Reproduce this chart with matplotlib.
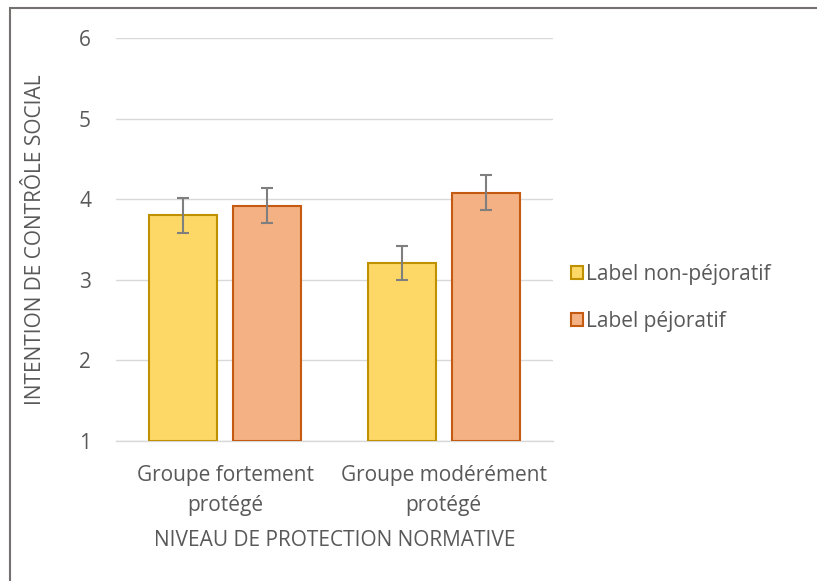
import matplotlib
matplotlib.use("Agg")
import matplotlib.pyplot as plt
import numpy as np
from matplotlib.patches import Rectangle, Patch

plt.rcParams['font.family'] = ['Open Sans', 'DejaVu Sans']

categories = ["Groupe fortement\nprotégé", "Groupe modérément\nprotégé"]
series_names = ["Label non-péjoratif", "Label péjoratif"]
non_pejoratif = [3.80, 3.21]
pejoratif = [3.92, 4.08]
err_non_pejoratif = [0.22, 0.21]
err_pejoratif = [0.22, 0.22]
yticks = [1, 2, 3, 4, 5, 6]

W, H = 817, 581
fig = plt.figure(figsize=(W/100, H/100), dpi=100)
ax = fig.add_axes([116/W, 1-441/H, (553-116)/W, (441-38)/H])

text_c = "#595959"
grid_c = "#D9D9D9"
fs = 15
x = np.arange(len(categories))
bw = 0.311
off = 0.192
ax.bar(x - off, np.array(non_pejoratif) - 1, bottom=1, width=bw,
       color="#FDD866", edgecolor="#BF9000", linewidth=1.5, zorder=3, label=series_names[0])
ax.bar(x + off, np.array(pejoratif) - 1, bottom=1, width=bw,
       color="#F4B183", edgecolor="#C55A11", linewidth=1.5, zorder=3, label=series_names[1])
ax.errorbar(x - off, non_pejoratif, yerr=err_non_pejoratif, fmt='none',
            ecolor="#7F7F7F", elinewidth=1.5, capsize=4.3, capthick=1.5, zorder=4)
ax.errorbar(x + off, pejoratif, yerr=err_pejoratif, fmt='none',
            ecolor="#7F7F7F", elinewidth=1.5, capsize=4.3, capthick=1.5, zorder=4)

ax.set_xlim(-0.5, 1.5)
ax.set_ylim(1, 6)
ax.set_yticks(yticks)
ax.set_xticks(x)
ax.set_xticklabels(categories, fontsize=fs, color=text_c, linespacing=1.6)
ax.tick_params(axis='y', length=0, labelsize=fs, labelcolor=text_c, pad=18)
ax.tick_params(axis='x', length=0, pad=17)
ax.grid(axis='y', color=grid_c, linewidth=1, zorder=0)
for s in ['top', 'right', 'left']:
    ax.spines[s].set_visible(False)
ax.spines['bottom'].set_color(grid_c)
ax.spines['bottom'].set_linewidth(1)
ax.set_xlabel("NIVEAU DE PROTECTION NORMATIVE", fontsize=fs, color=text_c, labelpad=10)
ax.set_ylabel("INTENTION DE CONTRÔLE SOCIAL", fontsize=fs, color=text_c, labelpad=24)

handles = [Patch(facecolor="#FDD866", edgecolor="#BF9000", linewidth=1.5),
           Patch(facecolor="#F4B183", edgecolor="#C55A11", linewidth=1.5)]
leg = fig.legend(handles, series_names, loc='center left', bbox_to_anchor=(552/W, 1-298/H),
                 frameon=False, fontsize=fs, labelspacing=1.25, handlelength=0.6,
                 handleheight=0.6, handletextpad=0.15, labelcolor=text_c)

fig.patches.append(Rectangle((9.5/W, -0.1), 1.2, 1.1 - 7.5/H, transform=fig.transFigure,
                             fill=False, edgecolor="#767171", linewidth=1.5))

fig.savefig("out.png", dpi=100)
